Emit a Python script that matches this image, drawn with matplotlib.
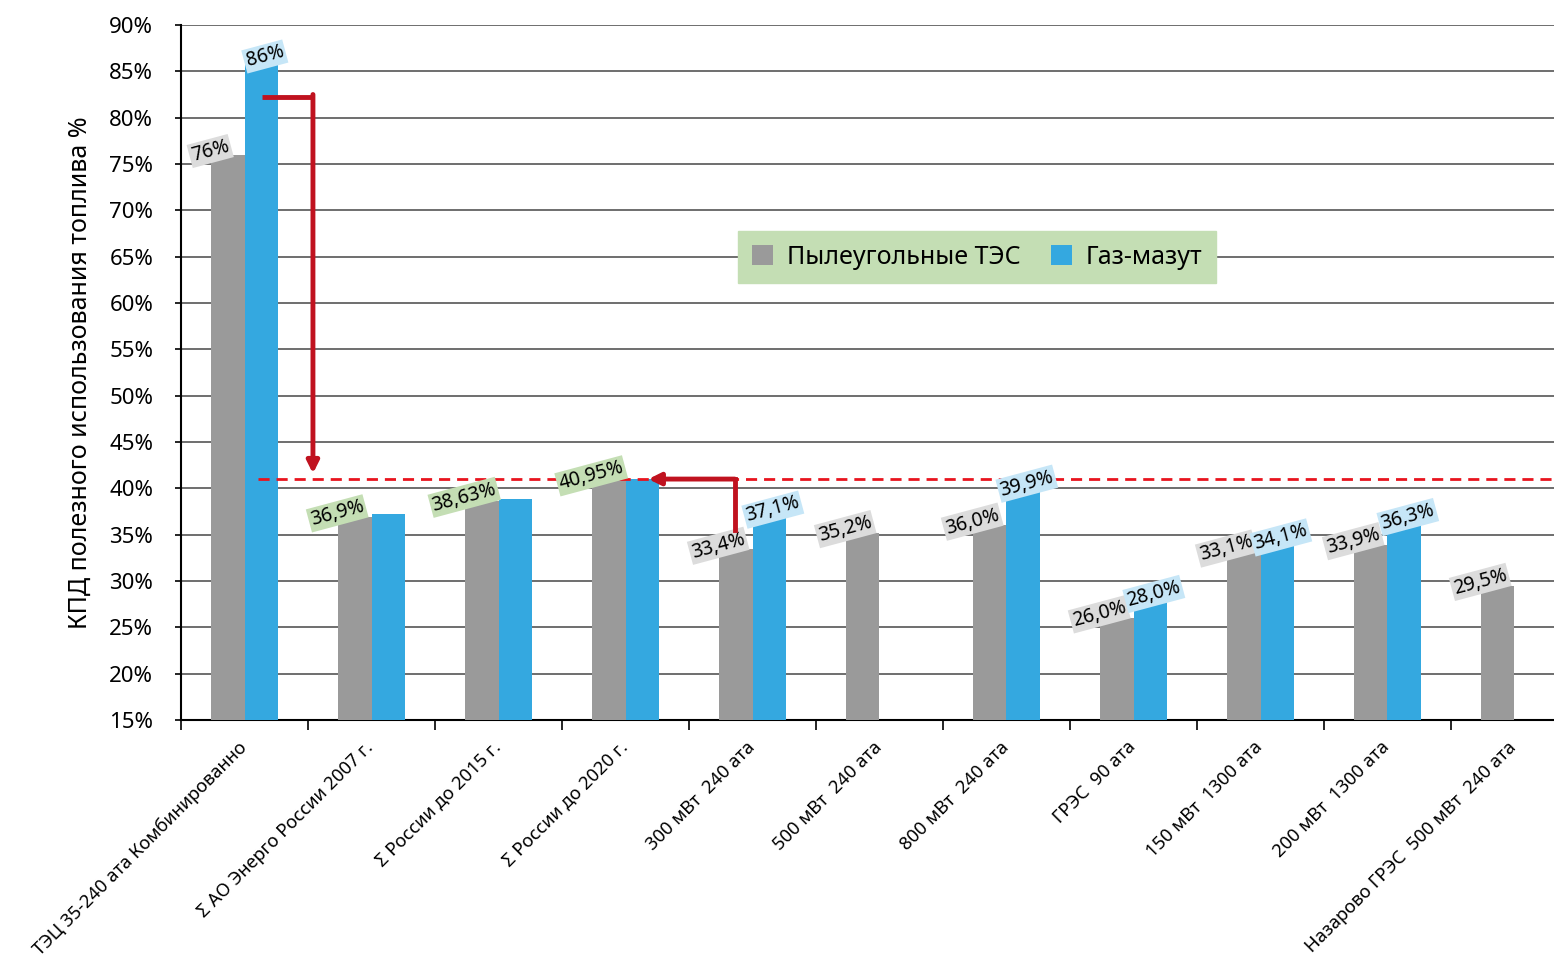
import numpy as np
import matplotlib
matplotlib.use("Agg")
import matplotlib.pyplot as plt
from matplotlib.transforms import ScaledTranslation

plt.rcParams['font.family'] = ['Noto Sans', 'DejaVu Sans']

categories = [
    "ТЭЦ 35-240 ата Комбинированно",
    "Σ АО Энерго России 2007 г.",
    "Σ России до 2015 г.",
    "Σ России до 2020 г.",
    "300 мВт  240 ата",
    "500 мВт  240 ата",
    "800 мВт  240 ата",
    "ГРЭС  90 ата",
    "150 мВт  1300 ата",
    "200 мВт  1300 ата",
    "Назарово ГРЭС  500 мВт  240 ата",
]
coal = [76.0, 36.9, 38.63, 40.95, 33.4, 35.2, 36.0, 26.0, 33.1, 33.9, 29.5]
gas = [86.0, 37.2, 38.8, 41.0, 37.1, np.nan, 39.9, 28.0, 34.1, 36.3, np.nan]
coal_labels = ["76%", "36,9%", "38,63%", "40,95%", "33,4%", "35,2%", "36,0%",
               "26,0%", "33,1%", "33,9%", "29,5%"]
gas_labels = ["86%", None, None, None, "37,1%", None, "39,9%", "28,0%",
              "34,1%", "36,3%", None]
green_idx = [1, 2, 3]
yticks = list(range(15, 91, 5))
ref_level = 41.0
series_names = ["Пылеугольные ТЭС", "Газ-мазут"]

GRAY = "#9a9a9a"
BLUE = "#34a8e0"
RED_DARK = "#c0121f"
RED = "#e8141e"

W, H = 1554, 961
fig = plt.figure(figsize=(W / 100, H / 100), dpi=100)
ax = fig.add_axes([181 / W, (961 - 720) / H, 1 - 181 / W, 695 / H])

x = np.arange(len(categories))
bw = 0.26
ax.bar(x - bw / 2, coal, bw, color=GRAY, zorder=3, label=series_names[0])
ax.bar(x + bw / 2, gas, bw, color=BLUE, zorder=3, label=series_names[1])

ax.set_ylim(15, 90)
ax.set_xlim(-0.5, -0.5 + 1373 / 127)
ax.set_yticks(yticks)
ax.set_yticklabels([f"{v}%" for v in yticks], fontsize=16)
ax.yaxis.grid(True, color="#555555", linewidth=1.2, zorder=0)
ax.set_axisbelow(True)
for s in ["top", "right"]:
    ax.spines[s].set_visible(False)
ax.spines["left"].set_linewidth(1.5)
ax.spines["bottom"].set_linewidth(1.5)
ax.tick_params(axis="y", length=4, width=1.2, pad=16)

ax.set_xticks(x)
ax.set_xticklabels(categories, rotation=45, ha="right", va="top",
                   rotation_mode="anchor", fontsize=13.2)
ax.tick_params(axis="x", which="major", length=0, pad=13)
ax.set_xticks(np.arange(len(categories)) - 0.5, minor=True)
ax.tick_params(axis="x", which="minor", length=7, width=1.2)
shift = ScaledTranslation(-0.07, 0, fig.dpi_scale_trans)
for lbl in ax.get_xticklabels():
    lbl.set_transform(lbl.get_transform() + shift)

ax.set_ylabel("КПД полезного использования топлива %", fontsize=18, labelpad=12)

# value labels
for i, (v, lab) in enumerate(zip(coal, coal_labels)):
    fc = "#c4deb4" if i in green_idx else "#dcdcdc"
    ax.text(i - bw / 2 - 0.14, v + 0.4, lab, rotation=15, ha="center", va="center",
            fontsize=14, zorder=5,
            bbox=dict(boxstyle="square,pad=0.1", fc=fc, ec="none"))
for i, (v, lab) in enumerate(zip(gas, gas_labels)):
    if lab is None:
        continue
    ax.text(i + bw / 2 + 0.03, v + 0.6, lab, rotation=15, ha="center", va="center",
            fontsize=14, zorder=5,
            bbox=dict(boxstyle="square,pad=0.1", fc="#c6e6f7", ec="none"))

# reference dashed line
ax.plot([0.106, 10.4], [ref_level, ref_level], color=RED, linestyle=(0, (4, 2.5)),
        linewidth=2, zorder=4)

# arrow 1: from top of first group down to reference
ax.plot([0.138, 0.539], [82.2, 82.2], color=RED_DARK, linewidth=3.5,
        solid_capstyle="butt", zorder=6)
ax.annotate("", xy=(0.539, 41.6), xytext=(0.539, 82.5),
            arrowprops=dict(arrowstyle="-|>,head_width=0.35,head_length=0.7",
                            color=RED_DARK, lw=3.5, shrinkA=0, shrinkB=0), zorder=6)
# arrow 2: from 300 MW group up and left
ax.plot([3.86, 3.86], [35.5, 41.0], color=RED_DARK, linewidth=3.5,
        solid_capstyle="projecting", zorder=6)
ax.annotate("", xy=(3.18, 41.0), xytext=(3.86, 41.0),
            arrowprops=dict(arrowstyle="-|>,head_width=0.35,head_length=0.7",
                            color=RED_DARK, lw=3.5, shrinkA=0, shrinkB=0), zorder=6)

leg = ax.legend(loc="center", bbox_to_anchor=(0.58, 0.666), ncol=2, fontsize=18,
                frameon=True, fancybox=False, facecolor="#c4deb4", edgecolor="#c4deb4",
                framealpha=1, handlelength=0.85, handleheight=0.85, columnspacing=1.2,
                handletextpad=0.55, borderpad=0.55)
leg.set_zorder(7)

fig.savefig("out.png", dpi=100)
